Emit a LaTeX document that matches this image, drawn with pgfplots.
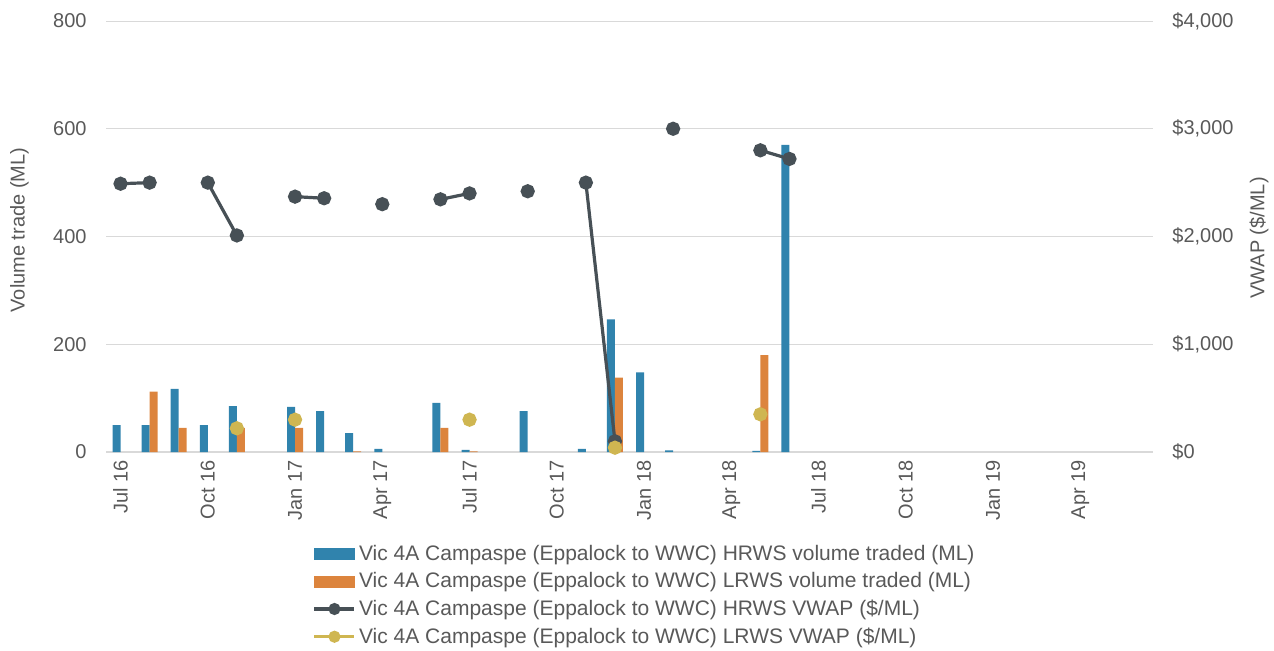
\documentclass[border=0pt]{standalone}
\usepackage{fontspec}
\setmainfont{Liberation Sans}
\usepackage{pgfplots}
\pgfplotsset{compat=1.18}

\definecolor{hrwsbar}{HTML}{3083AD}
\definecolor{lrwsbar}{HTML}{DC843D}
\definecolor{hrwsline}{HTML}{475056}
\definecolor{lrwsline}{HTML}{CFB651}
\definecolor{gridgray}{HTML}{D9D9D9}
\definecolor{txtgray}{HTML}{595959}

% shared frame: 36 monthly slots, Jul 16 .. Jun 19
\pgfplotsset{
  common/.style={
    width=523.5pt, height=215.5pt, scale only axis,
    xmin=-0.5, xmax=35.5,
    axis line style={draw=none},
    major tick length=0pt,
    every tick label/.append style={text=txtgray},
    label style={text=txtgray},
    /pgf/number format/assume math mode=true,
  },
  vwap legend/.style={legend image code/.code={%
    \draw[##1, mark repeat=2, mark phase=2, mark size=2.2pt]
      plot coordinates {(0pt,0pt) (10pt,0pt) (20pt,0pt)};}},
}

\begin{document}
\begin{tikzpicture}
% volume traded (left axis)
\begin{axis}[common,
  ymin=0, ymax=800, ytick={0,200,...,800},
  ymajorgrids, grid style={gridgray, line width=0.5pt},
  xtick={0,3,...,33},
  xticklabels={Jul 16,Oct 16,Jan 17,Apr 17,Jul 17,Oct 17,Jan 18,Apr 18,Jul 18,Oct 18,Jan 19,Apr 19},
  xticklabel style={rotate=90, anchor=east, inner xsep=4pt, inner ysep=0pt},
  yticklabel style={anchor=east, inner xsep=9.5pt},
  ylabel={Volume trade (ML)},
  ylabel style={at={(rel axis cs:-0.0826,0.515)}, anchor=center},
]
\draw[gridgray, line width=0.8pt] (rel axis cs:0,0) -- (rel axis cs:1,0);
\addplot[ybar, bar width=4pt, bar shift=-2pt, fill=hrwsbar, draw=none] coordinates {
  (0,50) (1,50) (2,117) (3,50) (4,85) (6,84) (7,76) (8,35) (9,6)
  (11,91) (12,4) (14,76) (16,6) (17,246) (18,148) (19,3) (22,2) (23,570)
};
\addplot[ybar, bar width=4pt, bar shift=2pt, fill=lrwsbar, draw=none] coordinates {
  (1,112) (2,45) (4,45) (6,45) (8,1) (11,45) (12,1) (17,138) (22,180)
};
\end{axis}

% VWAP (right axis)
\begin{axis}[common,
  ymin=0, ymax=4000, ytick={0,1000,...,4000},
  yticklabels={{\$0},{\$1,000},{\$2,000},{\$3,000},{\$4,000}},
  yticklabel pos=right,
  yticklabel style={anchor=west, inner xsep=9.5pt},
  hide x axis,
  ylabel={VWAP (\$/ML)},
  ylabel style={at={(rel axis cs:1.1012,0.4965)}, anchor=center},
  unbounded coords=jump,
  legend style={at={(rel axis cs:0.515,-0.196)}, anchor=north, draw=none, fill=none,
    row sep=0.6pt, text=txtgray, font=\fontsize{10.5}{12.6}\selectfont,
    nodes={inner xsep=1.5pt}},
  legend cell align=left,
]
\addlegendimage{legend image code/.code={\fill[hrwsbar] (0pt,-2.75pt) rectangle (20pt,2.75pt);}}
\addlegendentry{Vic 4A Campaspe (Eppalock to WWC) HRWS volume traded (ML)}
\addlegendimage{legend image code/.code={\fill[lrwsbar] (0pt,-2.75pt) rectangle (20pt,2.75pt);}}
\addlegendentry{Vic 4A Campaspe (Eppalock to WWC) LRWS volume traded (ML)}

\addplot[hrwsline, line width=1.6pt, mark=*, mark size=2.75pt, vwap legend]
coordinates {
  (0,2490) (1,2500) (2,nan) (3,2500) (4,2010) (5,nan) (6,2370) (7,2355) (8,nan)
  (9,2300) (10,nan) (11,2345) (12,2400) (13,nan) (14,2420) (15,nan) (16,2500)
  (17,100) (18,nan) (19,3000) (20,nan) (21,nan) (22,2800) (23,2720)
};
\addlegendentry{Vic 4A Campaspe (Eppalock to WWC) HRWS VWAP (\$/ML)}
\addplot[lrwsline, line width=1.6pt, mark=*, mark size=2.75pt, vwap legend]
coordinates {
  (4,220) (5,nan) (6,300) (7,nan) (12,300) (13,nan) (17,40) (18,nan) (22,350)
};
\addlegendentry{Vic 4A Campaspe (Eppalock to WWC) LRWS VWAP (\$/ML)}
\end{axis}
\pgfresetboundingbox
\path[use as bounding box] (-53pt,-99pt) rectangle (584pt,226pt);
\end{tikzpicture}
\end{document}
